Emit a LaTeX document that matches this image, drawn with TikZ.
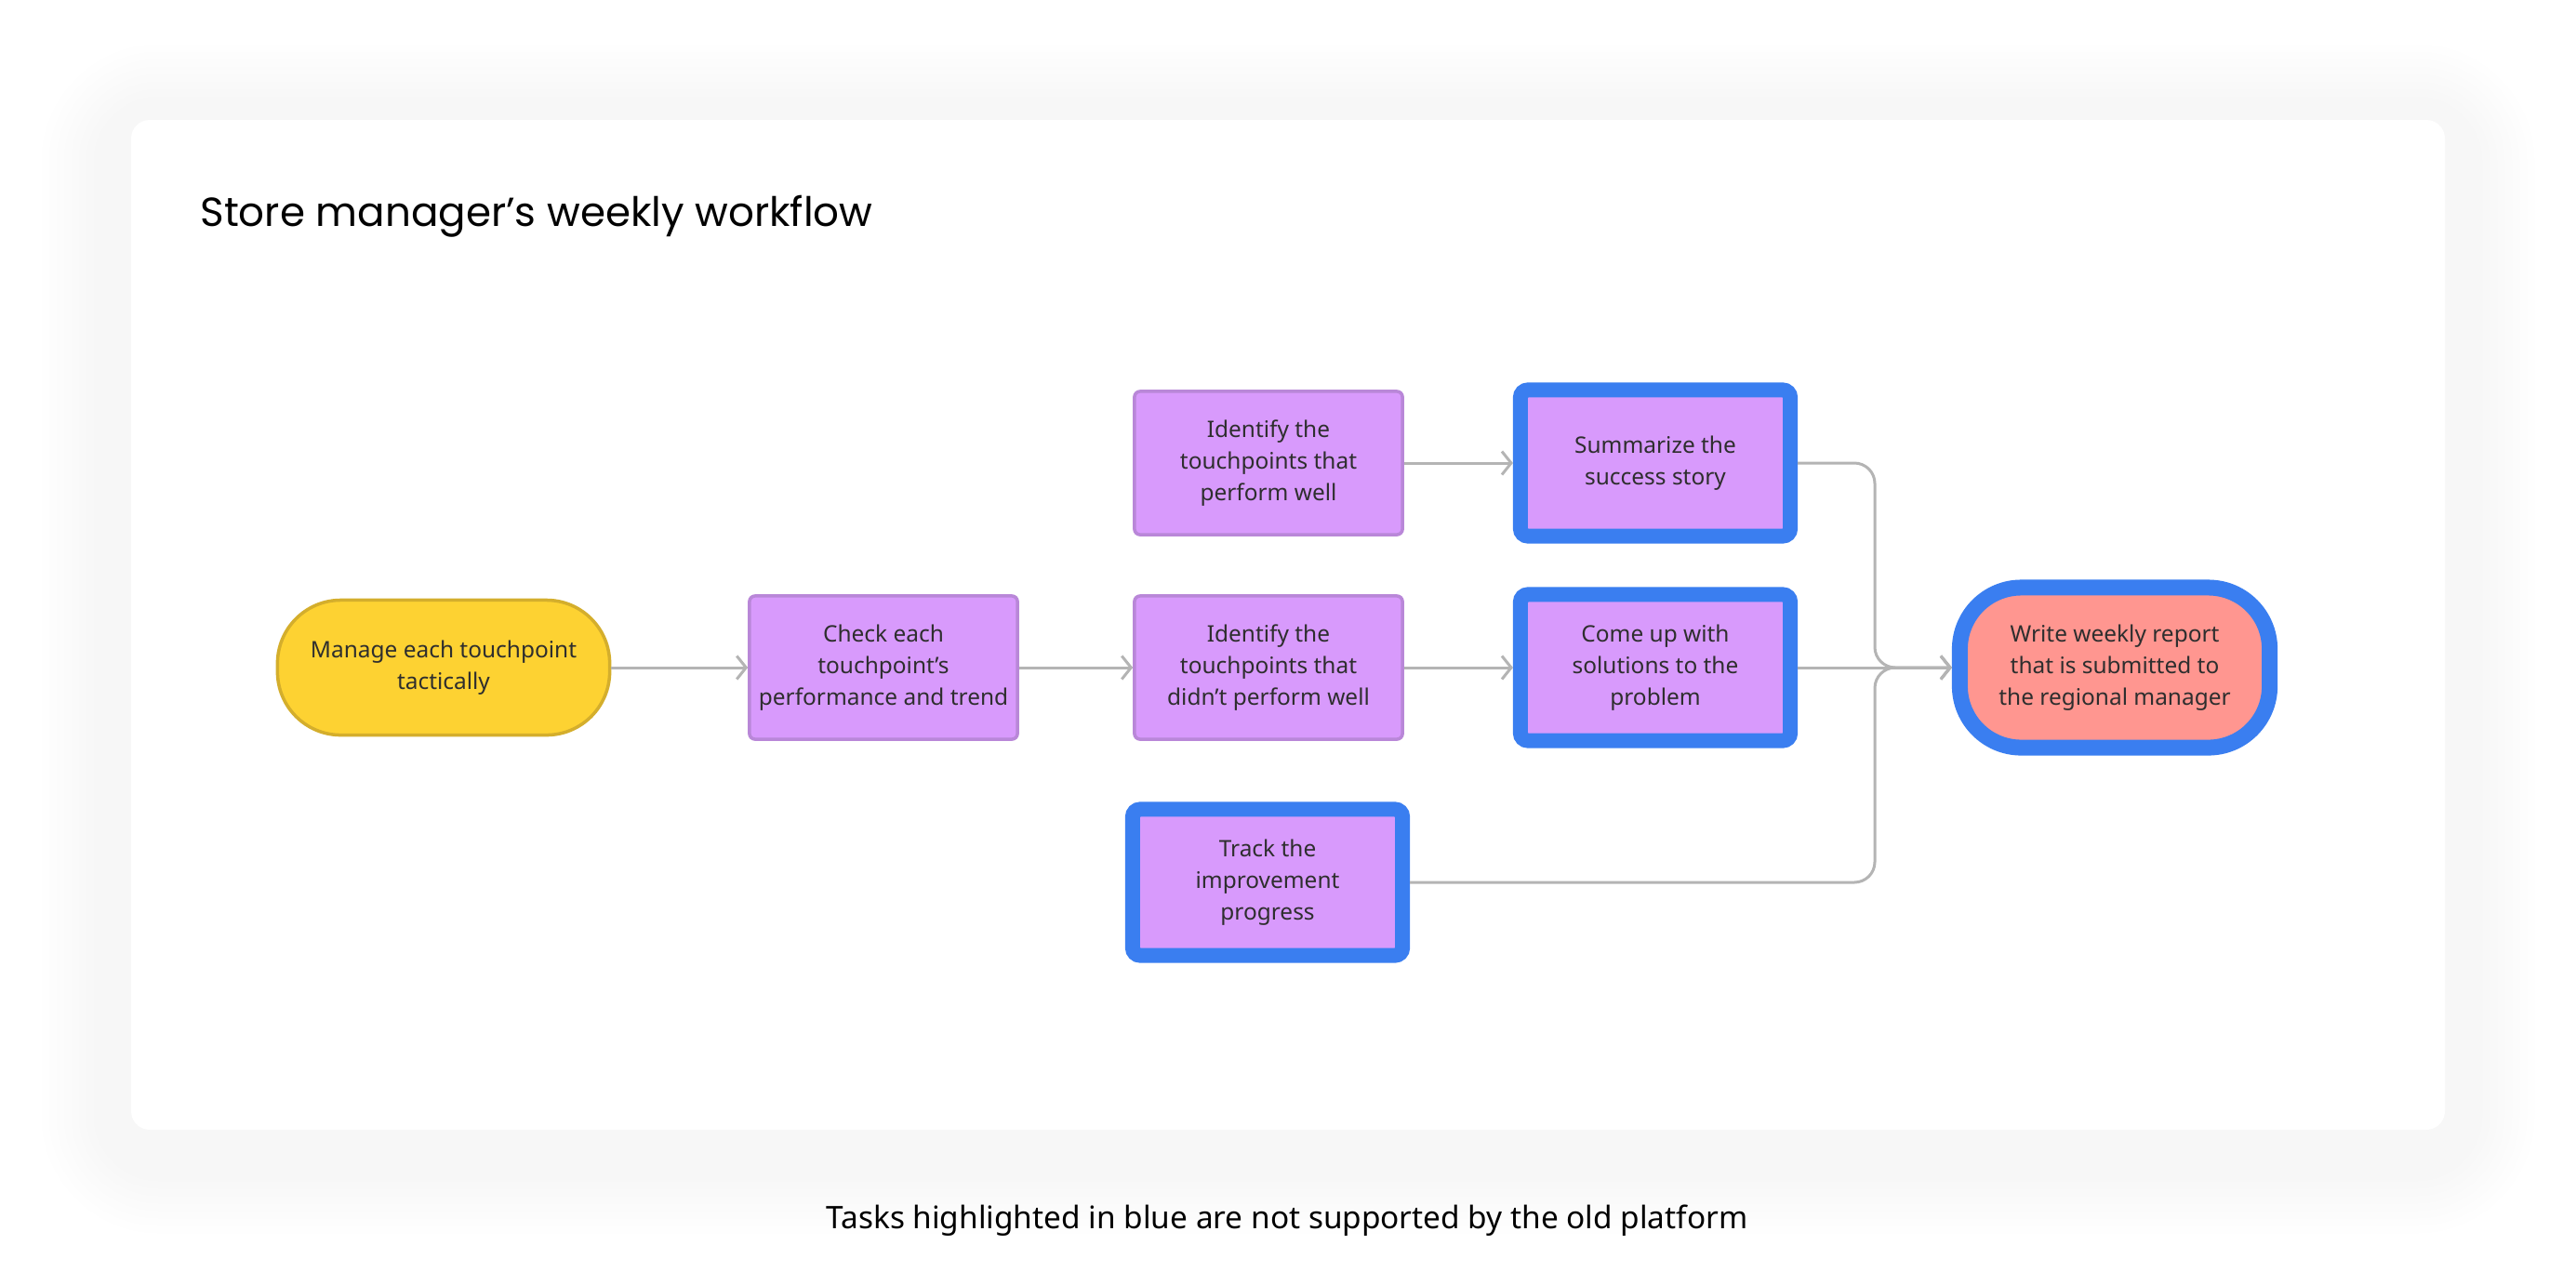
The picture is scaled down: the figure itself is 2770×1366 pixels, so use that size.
\documentclass[tikz,border=0pt]{standalone}
\usepackage{fontspec}
\setmainfont{Noto Sans}
\newfontfamily\titlefont{Poppins}
\usetikzlibrary{arrows.meta,positioning}
\definecolor{syellow}{HTML}{FDD232}
\definecolor{syellowd}{HTML}{D4AE2C}
\definecolor{spurple}{HTML}{D89AFC}
\definecolor{spurpled}{HTML}{B987D8}
\definecolor{sblue}{HTML}{3A7EF0}
\definecolor{sred}{HTML}{FF9690}
\definecolor{sgray}{HTML}{B4B4B4}
\definecolor{stext}{HTML}{2E2E2E}
\newcommand{\boxfont}{\fontsize{6.95}{9.7}\selectfont}
\tikzset{
  % Rounded start / end shapes and the plain task box.
  termbox/.style = {rectangle, rounded corners=0.68cm, draw=syellowd, fill=syellow, line width=0.035cm,
                    align=center, inner sep=0pt, font=\boxfont, text=stext,
                    minimum width=3.57cm, minimum height=1.45cm},
  taskbox/.style = {rectangle, rounded corners=0.06cm, draw=spurpled, fill=spurple, line width=0.035cm,
                    align=center, inner sep=0pt, font=\boxfont, text=stext,
                    minimum width=2.88cm, minimum height=1.54cm},
  gapbox/.style  = {taskbox, draw=sblue, line width=0.16cm, rounded corners=0.08cm,
                    minimum width=2.90cm, minimum height=1.57cm},
  endbox/.style  = {rectangle, rounded corners=0.66cm, draw=sblue, fill=sred, line width=0.17cm,
                    align=center, inner sep=0pt, font=\boxfont, text=stext,
                    minimum width=3.33cm, minimum height=1.72cm},
  conn/.style    = {-{Straight Barb[length=0.1cm, width=0.25cm]}, line width=0.03cm, sgray},
}

\begin{document}
\begin{tikzpicture}[x=0.01cm, y=-0.01cm]
\useasboundingbox[fill=white] (0,0) rectangle (2770,1366);
% card with a soft glow
\foreach \s in {8,16,...,96}
  \fill[black!3, opacity=0.12, rounded corners=0.3cm+\s*0.01cm] (141-\s,129-\s+15) rectangle (2629+\s,1215+\s+15);
\fill[white, rounded corners=0.2cm] (141,129) rectangle (2629,1215);
\node[anchor=base west, font=\titlefont\fontsize{12.4}{15}\selectfont] (title) at (203,243) {Store manager’s weekly workflow};

% main row
\node[termbox] (n1) at (477,718)  {Manage each touchpoint\\tactically};
\node[taskbox] (n2) at (950,718)  {Check each\\touchpoint’s\\performance and trend};
\node[taskbox] (n4) at (1364,718) {Identify the\\touchpoints that\\didn’t perform well};
\node[gapbox]  (n6) at (1780,718) {Come up with\\solutions to the\\problem};
\node[endbox]  (n8) at (2274,718) {Write weekly report\\that is submitted to\\the regional manager};

% top and bottom rows
\node[taskbox] (n3) at (1364,498) {Identify the\\touchpoints that\\perform well};
\node[gapbox]  (n5) at (1780,498) {Summarize the\\success story};
\node[gapbox]  (n7) at (1363,949) {Track the\\improvement\\progress};

\foreach \a/\b in {n1/n2,n2/n4,n3/n5,n4/n6,n6/n8} {\draw[conn] (\a) -- (\b);}
\coordinate (mrg) at (2016,718);
\draw[conn, rounded corners=0.22cm] (n5.east) -| (mrg) -- (n8.west);
\draw[conn, rounded corners=0.22cm] (n7.east) -| (mrg) -- (n8.west);

\node[anchor=base, font=\fontsize{9.5}{11}\selectfont] (note) at (1384,1321) {Tasks highlighted in blue are not supported by the old platform};
\end{tikzpicture}
\end{document}
